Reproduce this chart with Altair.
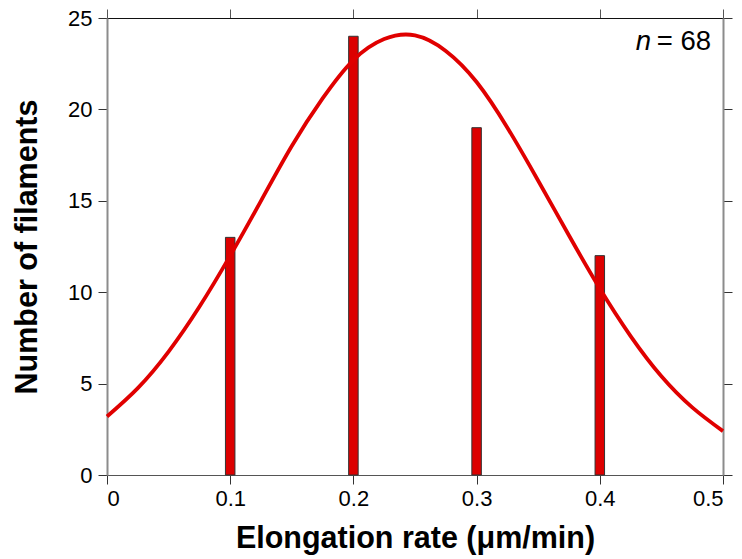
import altair as alt
import pandas as pd

# Histogram bars
rate = [0.1, 0.2, 0.3, 0.4]
count = [13, 24, 19, 12]

# Fitted curve, values
fit_x = [0.0, 0.025, 0.05, 0.075, 0.1, 0.125, 0.15, 0.175, 0.2, 0.225, 0.25,
         0.275, 0.3, 0.325, 0.35, 0.375, 0.4, 0.425, 0.45, 0.475, 0.5]
fit_y = [3.2, 4.75, 6.75, 9.2, 12.0, 15.0, 18.0, 20.6, 22.7, 23.85, 24.05,
         23.2, 21.5, 19.0, 16.1, 13.1, 10.2, 7.6, 5.4, 3.7, 2.4]

# Annotation
note_x = [0.4415, 0.4462]
note_y = [23.25, 23.25]
note_text = ["n", "= 68"]

x_ticks = [0, 0.1, 0.2, 0.3, 0.4, 0.5]
y_ticks = [0, 5, 10, 15, 20, 25]

bars_df = pd.DataFrame({"rate": rate, "count": count})
fit_df = pd.DataFrame({"x": fit_x, "y": fit_y})
note_df = pd.DataFrame({"x": note_x, "y": note_y, "t": note_text})

FONT = "Liberation Sans"
xs = alt.Scale(domain=[0, 0.5], nice=False, zero=False, padding=0)
ys = alt.Scale(domain=[0, 25], nice=False, padding=0)

bars = alt.Chart(bars_df).mark_bar(
    size=9.5, color="#dc0000", stroke="#333333", strokeWidth=1
).encode(
    x=alt.X("rate:Q", scale=xs,
            axis=alt.Axis(orient="bottom", values=x_ticks, format=".1~f",
                          title="Elongation rate (μm/min)",
                          domainColor="#555555", domainWidth=1.2,
                          tickColor="#333333", tickSize=9, labelPadding=4,
                          labelFontSize=22, labelColor="black", labelFont=FONT,
                          titleFontSize=30.5, titleFont=FONT, titleFontWeight="bold",
                          titleColor="black", titleBaseline="alphabetic",
                          titleY=72, grid=False)),
    y=alt.Y("count:Q", scale=ys,
            axis=alt.Axis(orient="left", values=y_ticks,
                          title="Number of filaments",
                          domainColor="#8c8c8c", domainWidth=2,
                          tickColor="#333333", tickSize=9, labelPadding=6,
                          labelFontSize=22, labelColor="black", labelFont=FONT,
                          titleFontSize=30.5, titleFont=FONT, titleFontWeight="bold",
                          titleColor="black", titleBaseline="alphabetic",
                          titleX=-71, grid=False)),
)

curve = alt.Chart(fit_df).mark_line(
    color="#e00000", strokeWidth=3.8, interpolate="natural"
).encode(
    x=alt.X("x:Q", scale=xs,
            axis=alt.Axis(orient="top", values=x_ticks, labels=False, title=None,
                          domainColor="#111111", domainWidth=1.2,
                          tickColor="#555555", tickSize=9, grid=False)),
    y=alt.Y("y:Q", scale=ys,
            axis=alt.Axis(orient="right", values=y_ticks, labels=False, title=None,
                          domainColor="#8c8c8c", domainWidth=2,
                          tickColor="#333333", tickSize=9, grid=False)),
)

note_n = alt.Chart(note_df.iloc[[0]]).mark_text(
    align="right", baseline="alphabetic", fontSize=27.5, font=FONT,
    fontStyle="italic", color="black"
).encode(
    x=alt.X("x:Q", scale=xs, axis=None),
    y=alt.Y("y:Q", scale=ys, axis=None),
    text="t:N",
)

note_rest = alt.Chart(note_df.iloc[[1]]).mark_text(
    align="left", baseline="alphabetic", fontSize=27.5, font=FONT, color="black"
).encode(
    x=alt.X("x:Q", scale=xs, axis=None),
    y=alt.Y("y:Q", scale=ys, axis=None),
    text="t:N",
)

chart = alt.layer(bars, curve, note_n, note_rest).resolve_axis(
    x="independent", y="independent"
).properties(
    width=616, height=457,
    autosize=alt.AutoSizeParams(type="none"),
    padding={"left": 107, "top": 18, "right": 19, "bottom": 84},
).configure_view(stroke=None).configure(background="white")

chart.save("out.html", embed_options={"renderer": "svg", "actions": False})
